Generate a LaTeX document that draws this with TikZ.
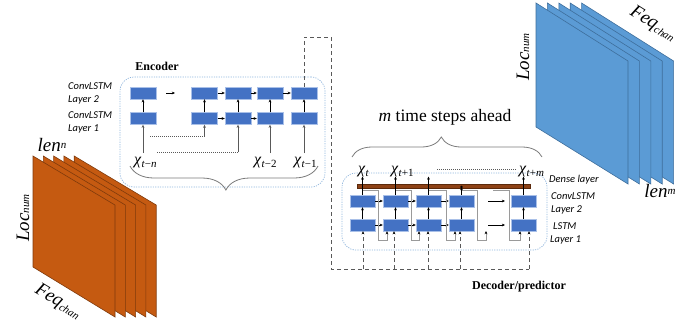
\documentclass[tikz,border=0pt]{standalone}
\usepackage[no-math]{fontspec}
\setmainfont{Liberation Serif}
\newfontfamily\calib{Carlito}
\usetikzlibrary{arrows.meta,decorations.pathreplacing,calc}

\definecolor{cellblue}{HTML}{4472C4}
\definecolor{celledge}{HTML}{A9C0E8}
\definecolor{boxline}{HTML}{8FB4DC}
\definecolor{orangefill}{HTML}{C55A11}
\definecolor{orangeedge}{HTML}{7F3A0C}
\definecolor{bluefill}{HTML}{5B9BD5}
\definecolor{blueedge}{HTML}{3E6E9C}
\definecolor{densebar}{HTML}{8E4216}
\definecolor{densedge}{HTML}{5C2A0C}
\definecolor{linkgray}{HTML}{595959}
\definecolor{feedgray}{HTML}{9A9A9A}

\tikzset{
  cell/.style={draw=celledge, line width=0.4pt, fill=cellblue,
    minimum width=26pt, minimum height=12pt, inner sep=0pt},
  dcell/.style={cell, minimum width=25pt},
  arr/.style={-{Stealth[length=3.2pt,width=2.8pt]}, line width=0.6pt, black},
  inarr/.style={-{Stealth[length=3.2pt,width=2.8pt]}, line width=0.7pt, linkgray},
  dotl/.style={linkgray, line width=0.6pt, dash pattern=on 1pt off 1pt},
  dashl/.style={linkgray, line width=0.7pt, dash pattern=on 4pt off 3pt},
  dasharr/.style={dashl, -{Stealth[length=3.2pt,width=2.8pt,black]}},
  feed/.style={feedgray, line width=0.9pt},
  feedarr/.style={feed, -{Stealth[length=3.2pt,width=2.8pt,black]}},
  frame/.style={draw=boxline, line width=0.7pt, dash pattern=on 1.2pt off 1.2pt,
    rounded corners=14pt},
  lab/.style={font=\calib\itshape\fontsize{10.5}{12}\selectfont, anchor=west, inner sep=0pt},
  ttl/.style={font=\bfseries\fontsize{12}{14}\selectfont, inner sep=0pt},
  chi/.style={font=\fontsize{16}{18}\selectfont, inner sep=0pt, anchor=base west},
  brc/.style={decorate, draw=feedgray!80!black, line width=0.8pt},
  big/.style={font=\itshape\fontsize{19}{22}\selectfont, inner sep=0pt},
  sheetO/.style={fill=orangefill, draw=orangeedge, line width=0.6pt},
  sheetB/.style={fill=bluefill, draw=blueedge, line width=0.6pt},
}
\newcommand{\smallpart}[1]{{\fontsize{11}{13}\selectfont #1}}
% chi with a lowered index, e.g. \chix{t}{−}{n}
\newcommand{\chix}[1]{\textit{χ}\raisebox{-3.5pt}{\fontsize{11}{13}\selectfont #1}}

\begin{document}
\begin{tikzpicture}[x=1pt,y=-1pt]
\useasboundingbox (0,0) rectangle (694,333);

% ---------- input tensor stack (orange) ----------
\foreach \i in {4,3,2,1,0}
  \filldraw[sheetO, shift={(10.3*\i,0)}] (33,156) -- (115,205) -- (115,317) -- (33,267) -- cycle;
\node[big] (lenn) at (52,145) {len\raisebox{3pt}{\smallpart{n}}};
\node[big, rotate=90] (locL) at (23,218) {Loc\smallpart{num}};
\node[big, rotate=-31] (feqL) at (58,302) {Feq\raisebox{-2pt}{\smallpart{chan}}};

% ---------- output tensor stack (blue) ----------
\foreach \i in {4,3,2,1,0}
  \filldraw[sheetB, shift={(11.4*\i,0)}] (536,3) -- (628,61) -- (628,184) -- (536,127) -- cycle;
\node[big, rotate=90] (locR) at (523,57) {Loc\smallpart{num}};
\node[big, rotate=-32] (feqR) at (653,24) {Feq\raisebox{-2pt}{\smallpart{chan}}};
\node[big] (lenm) at (660,191) {len\raisebox{3pt}{\smallpart{m}}};

% ---------- encoder ----------
\node[frame, minimum width=205pt, minimum height=110pt] (encbox) at (222.5,132) {};
\node[ttl] (enctitle) at (157,66) {Encoder};
\node[lab] (el2a) at (68,86) {ConvLSTM};
\node[lab] (el2b) at (68,99.5) {Layer 2};
\node[lab] (el1a) at (68,115) {ConvLSTM};
\node[lab] (el1b) at (68,128.5) {Layer 1};

\foreach \n/\x in {a/143,b/204.5,c/238,d/270,e/304}{
  \node[cell] (e2\n) at (\x,93) {};
  \node[cell] (e1\n) at (\x,118.5) {};
  \draw[arr] (e1\n.north) -- (e2\n.south);
}
\draw[arr] (e2b.east) -- (e2c.west);
\draw[arr] (e2c.east) -- (e2d.west);
\draw[arr] (e2d.east) -- (e2e.west);
\draw[arr] (e1b.east) -- (e1c.west);
\draw[arr] (e1c.east) -- (e1d.west);
\coordinate (gapA) at (166,93);
\coordinate (gapB) at (175,93);
\draw[arr] (gapA) -- (gapB);

\node[chi] (xtn) at (134,164) {\chix{\textit{t}−\textit{n}}};
\node[chi] (xt2) at (254,164) {\chix{\textit{t}−2}};
\node[chi] (xt1) at (294,164) {\chix{\textit{t}−1}};
\coordinate (tn) at (143,153);
\coordinate (t2) at (270,153);
\coordinate (t1) at (304,153);
\draw[inarr] (tn) -- (e1a.south);
\draw[inarr] (t2) -- (e1d.south);
\draw[inarr] (t1) -- (e1e.south);

\coordinate (dA) at (150,136);
\coordinate (dB) at (204.5,136);
\draw[dotl] (dA) -- (dB);
\draw[inarr] (dB) -- (e1b.south);
\coordinate (dC) at (157,152);
\coordinate (dD) at (238,152);
\draw[dotl] (dC) -- (dD);
\draw[inarr] (dD) -- (e1c.south);

\coordinate (encL) at (130,166);
\coordinate (encR) at (318,166);
\draw[brc, decoration={brace, amplitude=24pt, aspect=0.49}] (encR) -- (encL);

% ---------- hand-over path ----------
\coordinate (hA) at (304,37);
\coordinate (hB) at (331,37);
\coordinate (hC) at (331,269);
\coordinate (hD) at (529,269);
\draw[dashl] (e2e.north) -- (hA) -- (hB) -- (hC) -- (hD);

% ---------- decoder ----------
\node[frame, minimum width=205pt, minimum height=77pt] (decbox) at (444.5,211.5) {};
\node[ttl] (dectitle) at (519,287) {Decoder/predictor};

\foreach \n/\x in {a/362.5,b/395.5,c/428.5,d/461.5,e/523.5}{
  \node[dcell] (d2\n) at (\x,201) {};
  \node[dcell] (d1\n) at (\x,225) {};
  \draw[arr] (d1\n.north) -- (d2\n.south);
}
\foreach \p/\q in {a/b,b/c,c/d}{
  \draw[arr] (d2\p.east) -- (d2\q.west);
  \draw[arr] (d1\p.east) -- (d1\q.west);
}
\coordinate (gapC) at (488,201);
\coordinate (gapD) at (505,201);
\coordinate (gapE) at (488,225);
\coordinate (gapF) at (505,225);
\draw[arr] (gapC) -- (gapD);
\draw[arr] (gapE) -- (gapF);

% feedback of each prediction into the next step
\draw[feedarr] (362.5,190) -- (378,190) -- (378,240) -- (387,240) -- (d1b.south -| 387,0);
\draw[feedarr] (395.5,190) -- (411,190) -- (411,240) -- (419,240) -- (d1c.south -| 419,0);
\draw[feedarr] (428.5,190) -- (446,190) -- (446,240) -- (455,240) -- (d1d.south -| 455,0);
\coordinate (fbEnd) at (486,231);
\draw[feedarr] (461.5,190) -- (477,190) -- (477,240) -- (486,240) -- (fbEnd);
\draw[feedarr] (493,190) -- (509,190) -- (509,240) -- (520,240) -- (d1e.south -| 520,0);

% dense layer
\node[fill=densebar, draw=densedge, line width=0.4pt, minimum width=173pt,
  minimum height=4.5pt, inner sep=0pt] (dense) at (443.5,186) {};

% decoder inputs from the encoder state
\foreach \n/\x in {a/363,b/394,c/428,d/460,e/529}{
  \draw[dasharr] (\x,269) -- (d1\n.south -| \x,0);
}

% outputs
\node[chi] (ya) at (358,173) {\chix{\textit{t}}};
\node[chi] (yb) at (391,173) {\chix{\textit{t}+1}};
\node[chi] (ye) at (519,173) {\chix{\textit{t}+\textit{m}}};
\coordinate (oa) at (362.5,176.5);
\coordinate (ob) at (395.5,176.5);
\coordinate (oc) at (428.5,176.5);
\coordinate (od) at (461.5,187);
\coordinate (oe) at (523.5,176.5);
\draw[arr] (d2a.north) -- (oa);
\draw[arr] (d2b.north) -- (ob);
\draw[arr] (d2c.north) -- (oc);
\draw[arr] (d2d.north) -- (od);
\fill (od) circle (1.3pt);
\draw[arr] (d2e.north) -- (oe);
\coordinate (dotS) at (437,169);
\coordinate (dotE) at (516,169);
\draw[dotl] (dotS) -- (dotE);

\coordinate (decL) at (352,157);
\coordinate (decR) at (542,157);
\draw[brc, decoration={brace, amplitude=20pt, aspect=0.47}] (decL) -- (decR);
\node[font=\fontsize{17.5}{20}\selectfont, inner sep=0pt] (ahead) at (445,117) {\textit{m} time steps ahead};

\node[lab] (dl0) at (549,180) {Dense layer};
\node[lab] (dl2a) at (551,196) {ConvLSTM};
\node[lab] (dl2b) at (551,210) {Layer 2};
\node[lab] (dl1a) at (553,226) {LSTM};
\node[lab] (dl1b) at (550,240) {Layer 1};
\end{tikzpicture}
\end{document}
